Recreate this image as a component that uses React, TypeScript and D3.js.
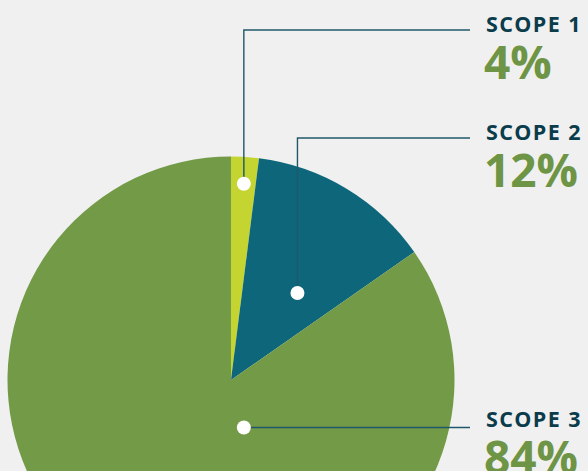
import * as d3 from 'd3';
import React, { useEffect, useRef } from 'react';

// slice shares as drawn, and the labels printed beside them
const scopes = ['SCOPE 1', 'SCOPE 2', 'SCOPE 3'];
const shares = [2.0, 13.3, 84.7];
const percentLabels = ['4%', '12%', '84%'];
const sliceColors = ['#c4d430', '#0e667b', '#739a47'];
// where the white dot sits inside each slice (fraction of slice angle, fraction of radius)
const dotAngleFrac = [0.52, 0.63, 0.36];
const dotRadiusFrac = [0.88, 0.49, 0.22];
// label rows: y of the leader's elbow
const labelY = [30, 138, 425];

const W = 588;
const H = 471;

const App = () => {
	const svgRef = useRef(null);

	useEffect(() => {
		const svg = d3.select(svgRef.current);
		svg.selectAll('*').remove();

		svg.append('rect').attr('width', W).attr('height', H).attr('fill', '#f0f0f0');

		const cx = 231;
		const cy = 380;
		const r = 223.5;

		const pie = d3.pie<number>().sort(null).value((d) => d);
		const arcs = pie(shares);
		const arc = d3.arc<d3.PieArcDatum<number>>().innerRadius(0).outerRadius(r);

		const g = svg.append('g').attr('transform', `translate(${cx},${cy})`);

		g.selectAll('path')
			.data(arcs)
			.join('path')
			.attr('d', arc)
			.attr('fill', (d, i) => sliceColors[i]);

		const textX = 486;
		const lineEnd = 470;

		arcs.forEach((a, i) => {
			const ang = a.startAngle + (a.endAngle - a.startAngle) * dotAngleFrac[i];
			const rr = r * dotRadiusFrac[i];
			const px = cx + rr * Math.sin(ang);
			const py = cy - rr * Math.cos(ang);
			const ly = labelY[i];

			const path = d3.path();
			path.moveTo(px, py);
			if (Math.abs(py - ly) > 4) path.lineTo(px, ly);
			path.lineTo(lineEnd, Math.abs(py - ly) > 4 ? ly : py);

			svg.append('path')
				.attr('d', path.toString())
				.attr('fill', 'none')
				.attr('stroke', '#1f5868')
				.attr('stroke-width', 1.4);

			svg.append('circle')
				.attr('cx', px)
				.attr('cy', py)
				.attr('r', 7)
				.attr('fill', '#ffffff');

			svg.append('text')
				.attr('x', textX)
				.attr('y', ly + 2)
				.attr('font-family', '"Open Sans", Lato, sans-serif')
				.attr('font-weight', 700)
				.attr('font-size', 21.5)
				.attr('letter-spacing', 1.4)
				.attr('fill', '#0b3c4b')
				.text(scopes[i]);

			svg.append('text')
				.attr('x', textX - 2)
				.attr('y', ly + 49)
				.attr('font-family', '"Open Sans", Lato, sans-serif')
				.attr('font-weight', 700)
				.attr('font-size', 46)
				.attr('fill', '#6e9445')
				.text(percentLabels[i]);
		});
	}, []);

	return (
		<svg
			ref={svgRef}
			width={W}
			height={H}
			style={{ position: 'fixed', left: 0, top: 0, display: 'block' }}
		/>
	);
};

export default App;
